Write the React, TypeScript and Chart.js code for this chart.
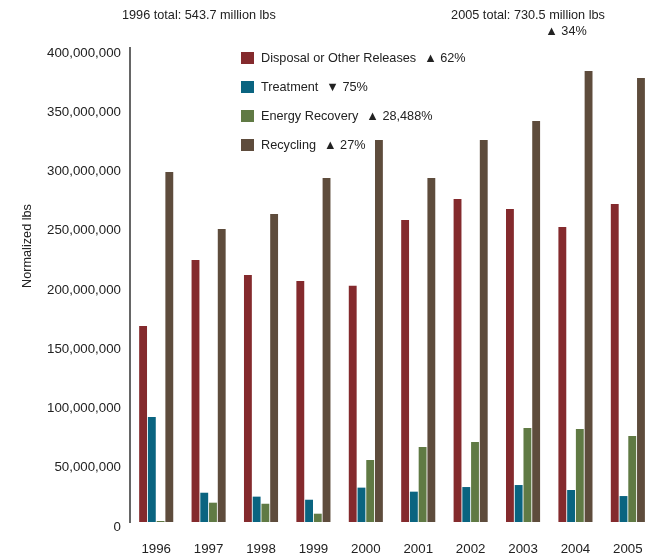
import React, { useEffect, useRef } from "react";
import { Chart, registerables } from "chart.js";

Chart.register(...registerables);

const years = ["1996", "1997", "1998", "1999", "2000", "2001", "2002", "2003", "2004", "2005"];
const disposal = [165.4, 221.0, 208.4, 203.4, 199.3, 254.9, 272.6, 264.1, 249.0, 268.4].map((v) => v * 1e6);
const treatment = [88.6, 24.7, 21.4, 18.8, 29.0, 25.6, 29.5, 31.2, 27.0, 21.9].map((v) => v * 1e6);
const energy = [0.25, 16.3, 15.4, 7.0, 52.3, 63.3, 67.5, 79.3, 78.5, 72.6].map((v) => v * 1e6);
const recycling = [295.4, 247.3, 260.0, 290.3, 322.4, 290.3, 322.4, 338.4, 380.6, 374.7].map((v) => v * 1e6);

const seriesNames = ["Disposal or Other Releases", "Treatment", "Energy Recovery", "Recycling"];
const seriesChange = ["▲ 62%", "▼ 75%", "▲ 28,488%", "▲ 27%"];
const colors = ["#842A2D", "#0A6480", "#607A44", "#5E4C3C"];
const yTicks = [0, 50e6, 100e6, 150e6, 200e6, 250e6, 300e6, 350e6, 400e6];
const note1996 = "1996 total: 543.7 million lbs";
const note2005 = "2005 total: 730.5 million lbs";
const note2005Change = "▲ 34%";
const yTitle = "Normalized lbs";

const FONT = '"Liberation Sans", Arial, sans-serif';
const SIZE = 13.3;
const TEXT_SIZE = 12.7;

const overlay = {
  id: "overlay",
  afterDraw(chart: any) {
    const ctx = chart.ctx;
    ctx.save();
    ctx.fillStyle = "#222";
    ctx.font = `${TEXT_SIZE}px ${FONT}`;
    ctx.textBaseline = "middle";
    // top notes
    ctx.textAlign = "left";
    ctx.fillText(note1996, 122, 15);
    ctx.textAlign = "center";
    ctx.fillText(note2005, 528, 15);
    ctx.fillText(note2005Change, 566, 31);
    // y title
    ctx.save();
    ctx.translate(27, 246);
    ctx.rotate(-Math.PI / 2);
    ctx.textAlign = "center";
    ctx.fillText(yTitle, 0, 0);
    ctx.restore();
    // legend
    const lx = 241;
    const rows = [58, 87, 116, 145];
    ctx.textAlign = "left";
    seriesNames.forEach((name, i) => {
      const y = rows[i];
      ctx.fillStyle = colors[i];
      ctx.fillRect(lx, y - 6, 13, 12);
      ctx.fillStyle = "#222";
      ctx.fillText(name, 261, y);
      const w = ctx.measureText(name).width;
      ctx.fillText(seriesChange[i], 261 + w + 8, y);
    });
    ctx.restore();
  },
};

export default function App() {
  const ref = useRef<HTMLCanvasElement>(null);
  useEffect(() => {
    if (!ref.current) return;
    const chart = new Chart(ref.current, {
      type: "bar",
      data: {
        labels: years,
        datasets: [
          { label: seriesNames[0], data: disposal, backgroundColor: colors[0] },
          { label: seriesNames[1], data: treatment, backgroundColor: colors[1] },
          { label: seriesNames[2], data: energy, backgroundColor: colors[2], minBarLength: 1 },
          { label: seriesNames[3], data: recycling, backgroundColor: colors[3] },
        ],
      },
      options: {
        animation: false,
        responsive: true,
        maintainAspectRatio: false,
        datasets: { bar: { categoryPercentage: 0.667, barPercentage: 0.9 } },
        layout: { padding: { top: 48, right: 7, left: 0, bottom: 0 } },
        plugins: { legend: { display: false }, tooltip: { enabled: false } },
        scales: {
          x: {
            grid: { display: false, drawTicks: false },
            border: { display: false },
            ticks: { color: "#222", font: { family: FONT, size: SIZE }, padding: 19 },
            afterFit: (s: any) => { s.height = 34; },
          },
          y: {
            min: 0,
            max: 400e6,
            afterBuildTicks: (s: any) => { s.ticks = yTicks.map((v) => ({ value: v })); },
            grid: { display: false, drawTicks: false },
            border: { display: true, color: "#666", width: 2 },
            ticks: {
              color: "#222",
              font: { family: FONT, size: SIZE },
              padding: 9,
              labelOffset: 5,
              callback: (v: any) => Number(v).toLocaleString("en-US"),
            },
            afterFit: (s: any) => { s.width = 130; },
          },
        },
      },
      plugins: [overlay],
    });
    return () => chart.destroy();
  }, []);
  return (
    <div style={{ position: "fixed", left: 0, top: 0, width: 662, height: 556, background: "#fff" }}>
      <canvas ref={ref} />
    </div>
  );
}
